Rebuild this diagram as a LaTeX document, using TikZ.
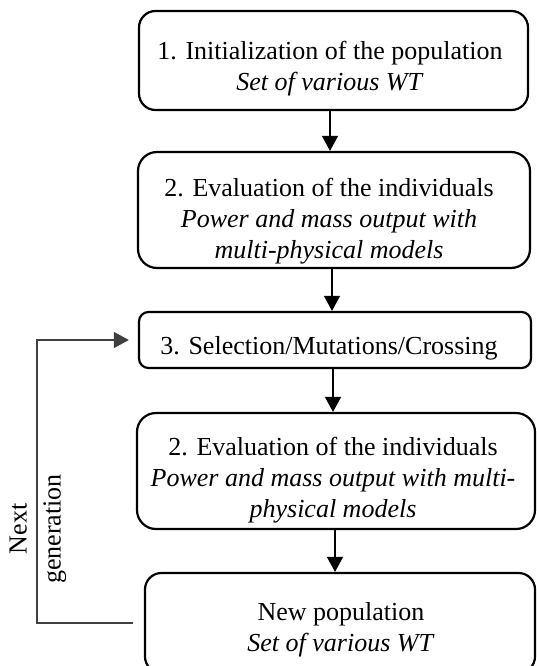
\documentclass[tikz,border=0pt]{standalone}
\usepackage{fontspec}
\setmainfont{Liberation Serif}
\usetikzlibrary{arrows.meta}
\begin{document}
\begin{tikzpicture}[x=1pt,y=-1pt,
  stagebox/.style={draw, line width=2.2pt, rounded corners=#1, inner sep=0pt},
  txt/.style={align=center, font=\fontsize{26}{31}\selectfont, inner sep=0pt},
  arr/.style={line width=1.1pt, -{Triangle[length=15pt,width=16pt]}},
  fbline/.style={line width=1.1pt, draw=black!75, -{Triangle[length=15pt,width=16pt]}}]
\useasboundingbox (0,0) rectangle (536,666);
% boxes
\node[stagebox=16.5pt, minimum width=389pt, minimum height=99pt] (b1) at (333.5,60.5) {};
\node[txt] (t1) at (330,69) {1. Initialization of the population\\\textit{Set of various WT}};
\node[stagebox=19pt, minimum width=392pt, minimum height=116pt] (b2) at (334,210) {};
\node[txt] (t2) at (329,221) {2. Evaluation of the individuals\\\textit{Power and mass output with}\\\textit{multi-physical models}};
\node[stagebox=9.5pt, minimum width=392pt, minimum height=56pt] (b3) at (335,340) {};
\node[txt] (t3) at (329,348) {3. Selection/Mutations/Crossing};
\node[stagebox=19pt, minimum width=398pt, minimum height=116pt] (b4) at (336,471) {};
\node[txt] (t4) at (333,480) {2. Evaluation of the individuals\\\textit{Power and mass output with multi-}\\\textit{physical models}};
\node[stagebox=16.5pt, minimum width=390pt, minimum height=100pt] (b5) at (340,623) {};
\node[txt] (t5) at (341,630) {New population\\\textit{Set of various WT}};
% vertical arrows
\draw[arr] ([xshift=-3.5pt]b1.south) -- ([xshift=-3.5pt]b1.south |- b2.north);
\draw[arr] ([xshift=-2pt]b2.south) -- ([xshift=-2pt]b2.south |- b3.north);
\draw[arr] ([xshift=-2pt]b3.south) -- ([xshift=-2pt]b3.south |- b4.north);
\draw[arr] ([xshift=-1pt]b4.south) -- ([xshift=-1pt]b4.south |- b5.north);
% feedback loop
\coordinate (fbstart) at (133,623);
\coordinate (fbx) at (37,623);
\draw[fbline, shorten >=9pt] (fbstart) -- (fbx) |- (b3.west);
\node[rotate=90, align=center, font=\fontsize{26}{34}\selectfont, inner sep=0pt] (lbl) at (38,529) {Next\\generation};
\end{tikzpicture}
\end{document}
